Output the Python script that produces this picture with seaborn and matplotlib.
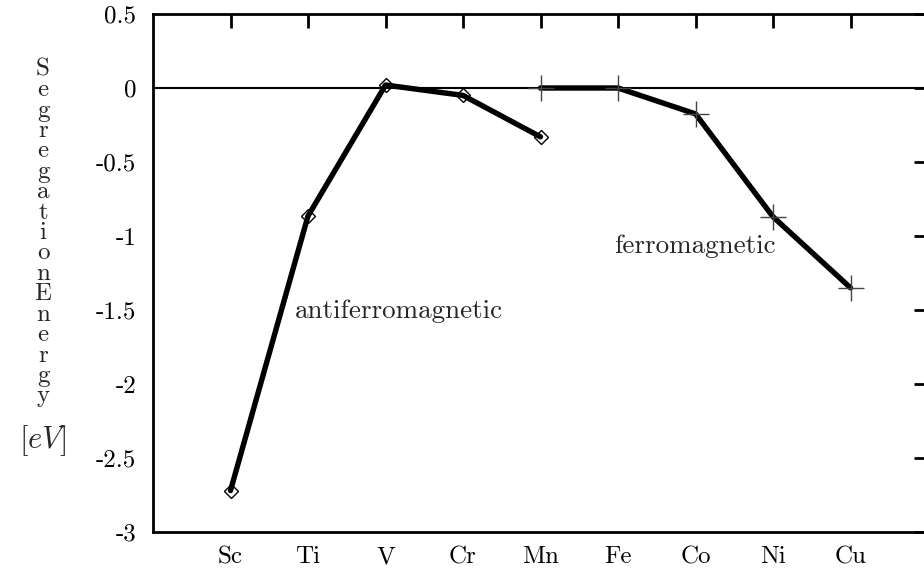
import numpy as np
import pandas as pd
import seaborn as sns
import matplotlib.pyplot as plt

sns.set_style("white")
plt.rcParams['font.family'] = ['cmr10', 'DejaVu Serif']
plt.rcParams['mathtext.fontset'] = 'cm'

elements = ["Sc", "Ti", "V", "Cr", "Mn", "Fe", "Co", "Ni", "Cu"]
afm_elements = ["Sc", "Ti", "V", "Cr", "Mn"]
afm_energy = [-2.72, -0.865, 0.02, -0.05, -0.33]
fm_elements = ["Mn", "Fe", "Co", "Ni", "Cu"]
fm_energy = [0.0, 0.0, -0.175, -0.87, -1.35]
yticks = [0.5, 0, -0.5, -1, -1.5, -2, -2.5, -3]
ytick_labels = ["0.5", "0", "-0.5", "-1", "-1.5", "-2", "-2.5", "-3"]

pos = {el: i + 1 for i, el in enumerate(elements)}
afm = pd.DataFrame({"x": [pos[e] for e in afm_elements], "E": afm_energy})
fm = pd.DataFrame({"x": [pos[e] for e in fm_elements], "E": fm_energy})

fig = plt.figure(figsize=(9.24, 5.76), dpi=100)
ax = fig.add_axes([153 / 924, 44 / 576, 775 / 924, 518 / 576])

ax.axhline(0, color="black", lw=1.5, zorder=1)

sns.lineplot(data=afm, x="x", y="E", color="black", lw=3.9, ax=ax, zorder=2)
sns.lineplot(data=fm, x="x", y="E", color="black", lw=3.9, ax=ax, zorder=2)
ax.plot(afm["x"], afm["E"], ls="none", marker="D", ms=7, mfc="none",
        mec="black", mew=1.0, zorder=3)
ax.plot(fm["x"], fm["E"], ls="none", marker="+", ms=19, mec="#444444",
        mew=1.0, zorder=3)

ax.set_xlim(0, 10)
ax.set_ylim(-3, 0.5)
ax.set_xticks(range(1, len(elements) + 1))
ax.set_xticklabels(elements)
ax.set_yticks(yticks)
ax.set_yticklabels(ytick_labels)
ax.set_xlabel("")
ax.set_ylabel("")
ax.tick_params(direction="in", length=10, width=2, top=True, right=True,
               labelsize=18, colors="black")
ax.tick_params(axis="x", pad=10)
ax.tick_params(axis="y", pad=12)
for s in ax.spines.values():
    s.set_linewidth(2)
    s.set_color("black")

ax.text(1.83, -1.51, "antiferromagnetic", fontsize=19.5, va="center", ha="left")
ax.text(5.95, -1.07, "ferromagnetic", fontsize=19.5, va="center", ha="left")

fig.text(43 / 924, 1 - 233 / 576, "\n".join("Segregation") + "\n" + "\n".join("Energy"),
         ha="center", va="center", fontsize=18, linespacing=0.9)
fig.text(43 / 924, 1 - 441 / 576, r"$[eV]$", ha="center", va="center", fontsize=22)

fig.savefig("out.png", dpi=100)
